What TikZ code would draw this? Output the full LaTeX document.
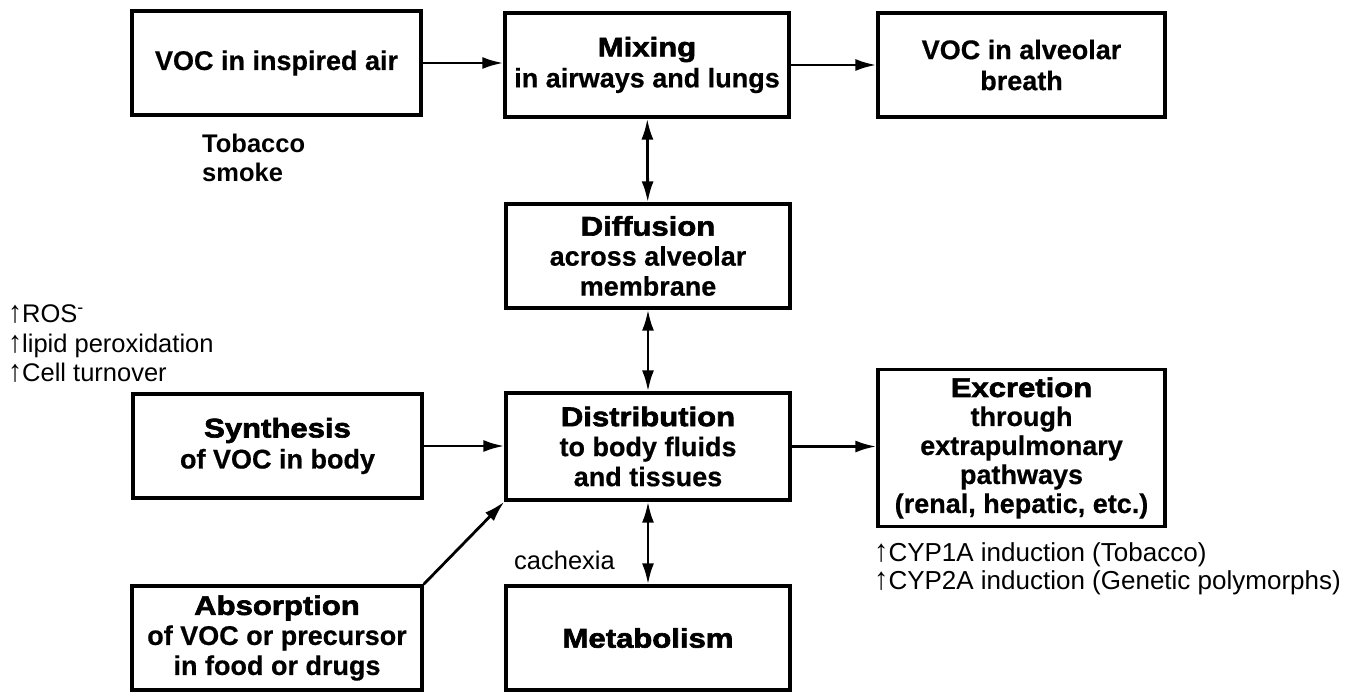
\documentclass[tikz,border=0pt]{standalone}
\usepackage{graphicx}
\usepackage{fontspec}
\setmainfont{Liberation Sans}
\newfontfamily\boxfam[BoldFeatures={FakeBold=0.6}]{Liberation Sans}
\newfontfamily\heavyfam[BoldFeatures={FakeBold=2.4,FakeStretch=1.15}]{Liberation Sans}
\usetikzlibrary{arrows.meta}

\newcommand\boxfont{\boxfam\fontsize{27}{31}\selectfont\bfseries}
\newcommand\notefont{\fontsize{25.5}{29.5}\selectfont}
\newcommand\hd[1]{{\heavyfam\bfseries #1}}
% slightly taller "increase" arrow in front of the notes
\newcommand\upmark{\scalebox{1.1}[1.2]{↑}}

\tikzset{
  box/.style={draw, line width=3.3pt, align=center, inner sep=2pt,
              font=\boxfont, minimum width=284pt, minimum height=104pt},
  flow/.style={line width=2.8pt, -{Latex[length=21pt,width=12pt]}},
  twoway/.style={line width=2.8pt,
                 {Latex[length=21pt,width=12pt]}-{Latex[length=21pt,width=12pt]}},
  note/.style={font=\notefont, align=left, inner sep=0pt, anchor=west},
}

\begin{document}
\begin{tikzpicture}[x=1pt, y=-1pt]
  \useasboundingbox (0,0) rectangle (1361,692);

  % boxes
  \node[box, minimum width=289pt, minimum height=104pt] (insp) at (276.5,63)
       {VOC in inspired air};
  \node[box] (mix)  at (647,65)  {\hd{Mixing}\\in airways and lungs};
  \node[box, minimum width=287pt] (alv) at (1021.5,65)
       {VOC in alveolar\\breath};
  \node[box, font=\boxfam\fontsize{27}{30}\selectfont\bfseries] (diff)
       at (648,256) {\hd{Diffusion}\\across alveolar\\membrane};
  \node[box, minimum height=107pt, font=\boxfam\fontsize{27}{30}\selectfont\bfseries]
       (dist) at (648,446.5) {\hd{Distribution}\\to body fluids\\and tissues};
  \node[box, minimum width=289pt] (syn) at (277.5,446)
       {\hd{Synthesis}\\of VOC in body};
  \node[box, minimum width=290pt, font=\boxfam\fontsize{27}{30}\selectfont\bfseries]
       (abs) at (277,638)
       {\hd{Absorption}\\of VOC or precursor\\in food or drugs};
  \node[box] (met)  at (648,638) {\hd{Metabolism}};
  \node[box, minimum width=287pt, minimum height=157pt, inner sep=0pt,
        font=\boxfam\fontsize{27}{29}\selectfont\bfseries] (exc) at (1021.5,448)
       {\hd{Excretion}\\through\\extrapulmonary\\pathways\\(renal, hepatic, etc.)};

  % annotations
  \node[note, font=\notefont\bfseries] (tob) at (202,158) {Tobacco\\smoke};
  \node[note] (ros) at (8,344)
       {\upmark ROS\textsuperscript{-}\\\upmark lipid peroxidation\\\upmark Cell turnover};
  \node[note] (cach) at (514,560) {cachexia};
  \node[note, font=\fontsize{26}{28.5}\selectfont] (cyp) at (874,569)
       {\upmark CYP1A induction (Tobacco)\\\upmark CYP2A induction (Genetic polymorphs)};

  % connectors
  \draw[flow] (insp.east) -- (insp.east -| mix.west);
  \draw[flow] (mix) -- (alv);
  \draw[twoway] (mix) -- (diff);
  \draw[twoway] (diff) -- (dist);
  \draw[flow] (syn) -- (syn -| dist.west);
  \draw[flow] (abs.north east) -- (dist.south west);
  \draw[flow] (dist.east) -- (dist.east -| exc.west);
  \draw[twoway] (dist) -- (met);
\end{tikzpicture}
\end{document}
